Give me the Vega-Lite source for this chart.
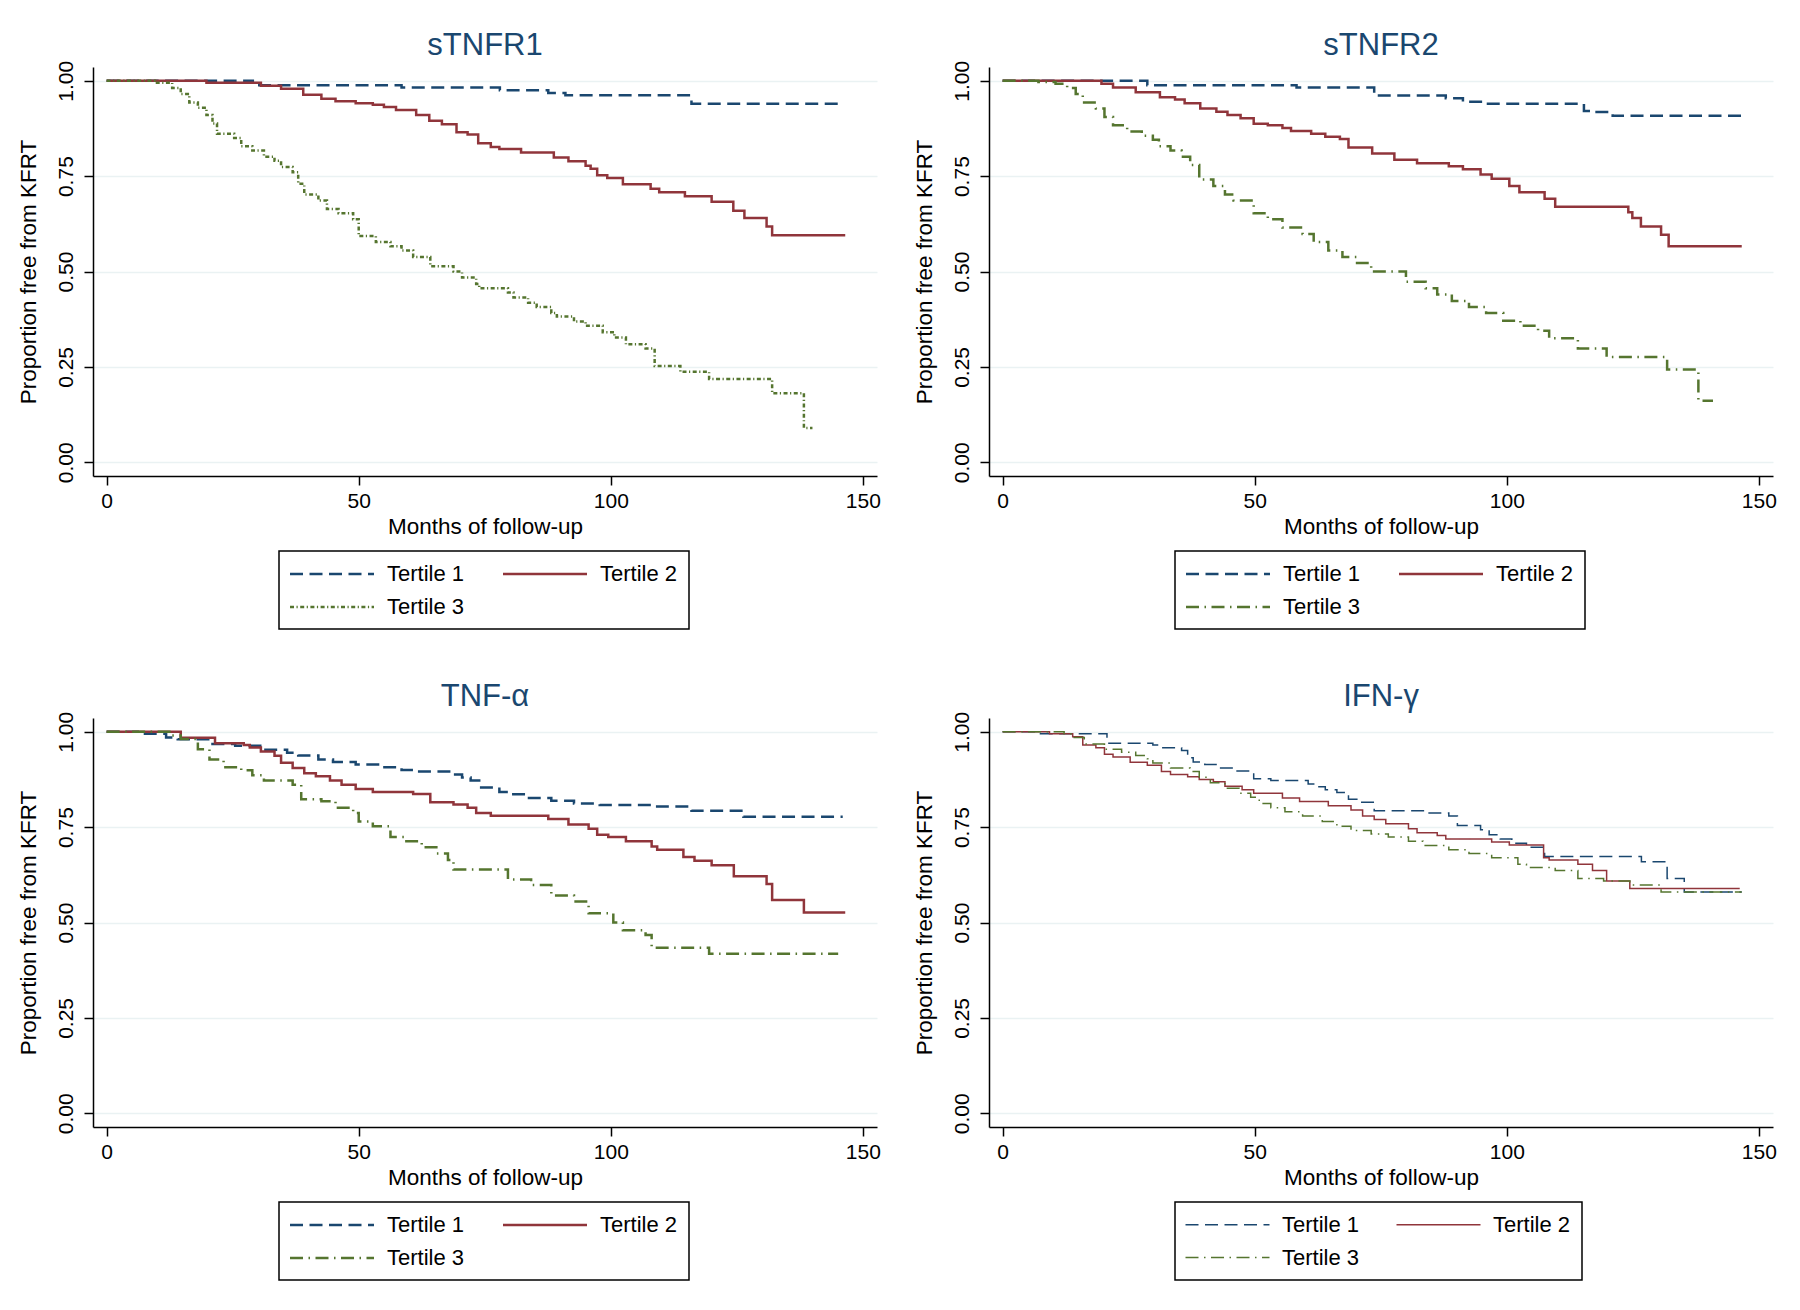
{
  "$schema": "https://vega.github.io/schema/vega-lite/v6.json",
  "background": "white",
  "padding": {"left": 17, "top": 29, "right": 5, "bottom": 5},
  "bounds": "flush",
  "columns": 2,
  "spacing": {"row": 242, "column": 112},
  "datasets": {
    "d1": [
      {"g":"Tertile 1","t":0,"s":1},{"g":"Tertile 1","t":29,"s":0.988},{"g":"Tertile 1","t":58.5,"s":0.982},{"g":"Tertile 1","t":78,"s":0.975},{"g":"Tertile 1","t":87.6,"s":0.968},{"g":"Tertile 1","t":91,"s":0.962},{"g":"Tertile 1","t":116,"s":0.94},{"g":"Tertile 1","t":145.7,"s":0.94},
      {"g":"Tertile 2","t":0,"s":1},{"g":"Tertile 2","t":19.8,"s":0.995},{"g":"Tertile 2","t":30.6,"s":0.987},{"g":"Tertile 2","t":34.6,"s":0.979},{"g":"Tertile 2","t":39,"s":0.963},{"g":"Tertile 2","t":42.6,"s":0.953},{"g":"Tertile 2","t":45.4,"s":0.946},{"g":"Tertile 2","t":49.4,"s":0.941},{"g":"Tertile 2","t":52.8,"s":0.937},{"g":"Tertile 2","t":55,"s":0.931},{"g":"Tertile 2","t":57.4,"s":0.923},{"g":"Tertile 2","t":61.4,"s":0.91},{"g":"Tertile 2","t":64,"s":0.895},{"g":"Tertile 2","t":66.5,"s":0.886},{"g":"Tertile 2","t":69.4,"s":0.865},{"g":"Tertile 2","t":71.6,"s":0.859},{"g":"Tertile 2","t":73.7,"s":0.836},{"g":"Tertile 2","t":76.2,"s":0.826},{"g":"Tertile 2","t":77.9,"s":0.821},{"g":"Tertile 2","t":82.2,"s":0.812},{"g":"Tertile 2","t":88.7,"s":0.799},{"g":"Tertile 2","t":91.6,"s":0.789},{"g":"Tertile 2","t":95,"s":0.777},{"g":"Tertile 2","t":96,"s":0.769},{"g":"Tertile 2","t":97.3,"s":0.752},{"g":"Tertile 2","t":99.3,"s":0.745},{"g":"Tertile 2","t":102.4,"s":0.729},{"g":"Tertile 2","t":107.9,"s":0.717},{"g":"Tertile 2","t":109.6,"s":0.708},{"g":"Tertile 2","t":114.7,"s":0.697},{"g":"Tertile 2","t":120,"s":0.683},{"g":"Tertile 2","t":124.3,"s":0.659},{"g":"Tertile 2","t":126.5,"s":0.64},{"g":"Tertile 2","t":130.9,"s":0.618},{"g":"Tertile 2","t":132,"s":0.595},{"g":"Tertile 2","t":146.5,"s":0.595},
      {"g":"Tertile 3","t":0,"s":1},{"g":"Tertile 3","t":9.6,"s":0.995},{"g":"Tertile 3","t":13,"s":0.981},{"g":"Tertile 3","t":14.7,"s":0.965},{"g":"Tertile 3","t":16.4,"s":0.943},{"g":"Tertile 3","t":18.1,"s":0.929},{"g":"Tertile 3","t":19.8,"s":0.91},{"g":"Tertile 3","t":21,"s":0.888},{"g":"Tertile 3","t":21.9,"s":0.861},{"g":"Tertile 3","t":25.3,"s":0.85},{"g":"Tertile 3","t":26.7,"s":0.828},{"g":"Tertile 3","t":28.9,"s":0.817},{"g":"Tertile 3","t":31.2,"s":0.801},{"g":"Tertile 3","t":33.3,"s":0.79},{"g":"Tertile 3","t":34.6,"s":0.774},{"g":"Tertile 3","t":36.9,"s":0.76},{"g":"Tertile 3","t":38,"s":0.73},{"g":"Tertile 3","t":39.2,"s":0.702},{"g":"Tertile 3","t":42,"s":0.686},{"g":"Tertile 3","t":43.7,"s":0.664},{"g":"Tertile 3","t":46,"s":0.653},{"g":"Tertile 3","t":48.9,"s":0.637},{"g":"Tertile 3","t":50,"s":0.593},{"g":"Tertile 3","t":53.4,"s":0.577},{"g":"Tertile 3","t":56.3,"s":0.566},{"g":"Tertile 3","t":58.5,"s":0.555},{"g":"Tertile 3","t":60.8,"s":0.538},{"g":"Tertile 3","t":64.2,"s":0.514},{"g":"Tertile 3","t":68.8,"s":0.5},{"g":"Tertile 3","t":70.5,"s":0.484},{"g":"Tertile 3","t":73.3,"s":0.467},{"g":"Tertile 3","t":73.9,"s":0.456},{"g":"Tertile 3","t":79.6,"s":0.445},{"g":"Tertile 3","t":80.7,"s":0.432},{"g":"Tertile 3","t":83.6,"s":0.418},{"g":"Tertile 3","t":85.3,"s":0.407},{"g":"Tertile 3","t":88.2,"s":0.391},{"g":"Tertile 3","t":89.3,"s":0.382},{"g":"Tertile 3","t":92.7,"s":0.369},{"g":"Tertile 3","t":95,"s":0.358},{"g":"Tertile 3","t":98.4,"s":0.341},{"g":"Tertile 3","t":100.7,"s":0.327},{"g":"Tertile 3","t":103,"s":0.309},{"g":"Tertile 3","t":106.9,"s":0.298},{"g":"Tertile 3","t":108.7,"s":0.252},{"g":"Tertile 3","t":113.8,"s":0.237},{"g":"Tertile 3","t":119.5,"s":0.218},{"g":"Tertile 3","t":132,"s":0.181},{"g":"Tertile 3","t":138.3,"s":0.09},{"g":"Tertile 3","t":140,"s":0.09}
    ],
    "d2": [
      {"g":"Tertile 1","t":0,"s":1},{"g":"Tertile 1","t":28.7,"s":0.988},{"g":"Tertile 1","t":58.3,"s":0.982},{"g":"Tertile 1","t":73.7,"s":0.961},{"g":"Tertile 1","t":87.9,"s":0.954},{"g":"Tertile 1","t":91.3,"s":0.945},{"g":"Tertile 1","t":95.9,"s":0.94},{"g":"Tertile 1","t":115.3,"s":0.921},{"g":"Tertile 1","t":117.5,"s":0.918},{"g":"Tertile 1","t":121,"s":0.908},{"g":"Tertile 1","t":146.6,"s":0.908},
      {"g":"Tertile 2","t":0,"s":1},{"g":"Tertile 2","t":19.6,"s":0.992},{"g":"Tertile 2","t":21.9,"s":0.982},{"g":"Tertile 2","t":26.4,"s":0.97},{"g":"Tertile 2","t":31.2,"s":0.957},{"g":"Tertile 2","t":34.2,"s":0.951},{"g":"Tertile 2","t":36.1,"s":0.941},{"g":"Tertile 2","t":39.2,"s":0.927},{"g":"Tertile 2","t":42.4,"s":0.919},{"g":"Tertile 2","t":44.6,"s":0.91},{"g":"Tertile 2","t":47.2,"s":0.902},{"g":"Tertile 2","t":49.8,"s":0.887},{"g":"Tertile 2","t":52.6,"s":0.883},{"g":"Tertile 2","t":55.5,"s":0.876},{"g":"Tertile 2","t":57.2,"s":0.868},{"g":"Tertile 2","t":61.2,"s":0.861},{"g":"Tertile 2","t":64,"s":0.853},{"g":"Tertile 2","t":66.9,"s":0.847},{"g":"Tertile 2","t":68.6,"s":0.825},{"g":"Tertile 2","t":73.3,"s":0.809},{"g":"Tertile 2","t":77.7,"s":0.793},{"g":"Tertile 2","t":82.2,"s":0.784},{"g":"Tertile 2","t":88.5,"s":0.776},{"g":"Tertile 2","t":91.3,"s":0.768},{"g":"Tertile 2","t":94.8,"s":0.754},{"g":"Tertile 2","t":97,"s":0.743},{"g":"Tertile 2","t":100.5,"s":0.724},{"g":"Tertile 2","t":102.5,"s":0.708},{"g":"Tertile 2","t":107.5,"s":0.691},{"g":"Tertile 2","t":109.6,"s":0.67},{"g":"Tertile 2","t":124.1,"s":0.655},{"g":"Tertile 2","t":124.9,"s":0.64},{"g":"Tertile 2","t":126.6,"s":0.618},{"g":"Tertile 2","t":130.6,"s":0.596},{"g":"Tertile 2","t":132.1,"s":0.566},{"g":"Tertile 2","t":146.6,"s":0.566},
      {"g":"Tertile 3","t":0,"s":1},{"g":"Tertile 3","t":7.1,"s":0.997},{"g":"Tertile 3","t":10.5,"s":0.992},{"g":"Tertile 3","t":12.8,"s":0.981},{"g":"Tertile 3","t":14.5,"s":0.965},{"g":"Tertile 3","t":15.9,"s":0.943},{"g":"Tertile 3","t":18.5,"s":0.927},{"g":"Tertile 3","t":20.2,"s":0.905},{"g":"Tertile 3","t":21.9,"s":0.883},{"g":"Tertile 3","t":24.7,"s":0.867},{"g":"Tertile 3","t":27.6,"s":0.856},{"g":"Tertile 3","t":29.8,"s":0.845},{"g":"Tertile 3","t":31,"s":0.828},{"g":"Tertile 3","t":33.3,"s":0.817},{"g":"Tertile 3","t":35.5,"s":0.801},{"g":"Tertile 3","t":37.2,"s":0.779},{"g":"Tertile 3","t":39,"s":0.741},{"g":"Tertile 3","t":41.8,"s":0.724},{"g":"Tertile 3","t":44.1,"s":0.702},{"g":"Tertile 3","t":45.8,"s":0.686},{"g":"Tertile 3","t":49.8,"s":0.653},{"g":"Tertile 3","t":52.6,"s":0.637},{"g":"Tertile 3","t":55.5,"s":0.615},{"g":"Tertile 3","t":59.5,"s":0.598},{"g":"Tertile 3","t":61.7,"s":0.577},{"g":"Tertile 3","t":64.6,"s":0.555},{"g":"Tertile 3","t":67.4,"s":0.538},{"g":"Tertile 3","t":70.3,"s":0.522},{"g":"Tertile 3","t":73.1,"s":0.5},{"g":"Tertile 3","t":80,"s":0.473},{"g":"Tertile 3","t":83.9,"s":0.456},{"g":"Tertile 3","t":86.2,"s":0.44},{"g":"Tertile 3","t":89.1,"s":0.423},{"g":"Tertile 3","t":92.5,"s":0.407},{"g":"Tertile 3","t":95.9,"s":0.391},{"g":"Tertile 3","t":99.3,"s":0.371},{"g":"Tertile 3","t":102.7,"s":0.358},{"g":"Tertile 3","t":106.2,"s":0.345},{"g":"Tertile 3","t":108.4,"s":0.325},{"g":"Tertile 3","t":114.1,"s":0.298},{"g":"Tertile 3","t":119.8,"s":0.276},{"g":"Tertile 3","t":131.8,"s":0.243},{"g":"Tertile 3","t":138,"s":0.161},{"g":"Tertile 3","t":140.9,"s":0.161}
    ],
    "d3": [
      {"g":"Tertile 1","t":0,"s":1},{"g":"Tertile 1","t":7.3,"s":0.995},{"g":"Tertile 1","t":11.8,"s":0.985},{"g":"Tertile 1","t":14.1,"s":0.98},{"g":"Tertile 1","t":21,"s":0.968},{"g":"Tertile 1","t":25.5,"s":0.963},{"g":"Tertile 1","t":31.2,"s":0.953},{"g":"Tertile 1","t":35.8,"s":0.945},{"g":"Tertile 1","t":38,"s":0.938},{"g":"Tertile 1","t":42,"s":0.927},{"g":"Tertile 1","t":44.9,"s":0.921},{"g":"Tertile 1","t":49.4,"s":0.914},{"g":"Tertile 1","t":55.1,"s":0.907},{"g":"Tertile 1","t":58.5,"s":0.9},{"g":"Tertile 1","t":60.8,"s":0.896},{"g":"Tertile 1","t":68.8,"s":0.888},{"g":"Tertile 1","t":70.5,"s":0.88},{"g":"Tertile 1","t":72.2,"s":0.872},{"g":"Tertile 1","t":73.9,"s":0.854},{"g":"Tertile 1","t":77.9,"s":0.842},{"g":"Tertile 1","t":80.2,"s":0.836},{"g":"Tertile 1","t":83,"s":0.826},{"g":"Tertile 1","t":88.2,"s":0.819},{"g":"Tertile 1","t":92.7,"s":0.812},{"g":"Tertile 1","t":97.8,"s":0.808},{"g":"Tertile 1","t":109.2,"s":0.804},{"g":"Tertile 1","t":116,"s":0.793},{"g":"Tertile 1","t":126.3,"s":0.777},{"g":"Tertile 1","t":146,"s":0.777},
      {"g":"Tertile 2","t":0,"s":1},{"g":"Tertile 2","t":14.7,"s":0.984},{"g":"Tertile 2","t":21.5,"s":0.97},{"g":"Tertile 2","t":27.2,"s":0.965},{"g":"Tertile 2","t":28.4,"s":0.959},{"g":"Tertile 2","t":30.6,"s":0.948},{"g":"Tertile 2","t":33.3,"s":0.937},{"g":"Tertile 2","t":34.6,"s":0.919},{"g":"Tertile 2","t":36.9,"s":0.905},{"g":"Tertile 2","t":39.2,"s":0.891},{"g":"Tertile 2","t":41.5,"s":0.883},{"g":"Tertile 2","t":44.3,"s":0.872},{"g":"Tertile 2","t":46.6,"s":0.861},{"g":"Tertile 2","t":49.4,"s":0.85},{"g":"Tertile 2","t":52.8,"s":0.842},{"g":"Tertile 2","t":60.8,"s":0.837},{"g":"Tertile 2","t":64.2,"s":0.815},{"g":"Tertile 2","t":68.8,"s":0.809},{"g":"Tertile 2","t":71.6,"s":0.801},{"g":"Tertile 2","t":73.3,"s":0.787},{"g":"Tertile 2","t":76.2,"s":0.78},{"g":"Tertile 2","t":87.6,"s":0.771},{"g":"Tertile 2","t":91.6,"s":0.757},{"g":"Tertile 2","t":95.6,"s":0.746},{"g":"Tertile 2","t":97.3,"s":0.73},{"g":"Tertile 2","t":99.5,"s":0.724},{"g":"Tertile 2","t":103,"s":0.713},{"g":"Tertile 2","t":108.1,"s":0.699},{"g":"Tertile 2","t":109.2,"s":0.691},{"g":"Tertile 2","t":114.4,"s":0.672},{"g":"Tertile 2","t":116.6,"s":0.662},{"g":"Tertile 2","t":120,"s":0.65},{"g":"Tertile 2","t":124.4,"s":0.621},{"g":"Tertile 2","t":130.9,"s":0.601},{"g":"Tertile 2","t":132,"s":0.559},{"g":"Tertile 2","t":138.3,"s":0.526},{"g":"Tertile 2","t":146.5,"s":0.526},
      {"g":"Tertile 3","t":0,"s":1},{"g":"Tertile 3","t":13,"s":0.99},{"g":"Tertile 3","t":14.7,"s":0.981},{"g":"Tertile 3","t":18.1,"s":0.954},{"g":"Tertile 3","t":20.4,"s":0.927},{"g":"Tertile 3","t":23.2,"s":0.907},{"g":"Tertile 3","t":26.7,"s":0.899},{"g":"Tertile 3","t":28.9,"s":0.886},{"g":"Tertile 3","t":31.2,"s":0.872},{"g":"Tertile 3","t":36.9,"s":0.861},{"g":"Tertile 3","t":38.6,"s":0.823},{"g":"Tertile 3","t":42.6,"s":0.818},{"g":"Tertile 3","t":45.4,"s":0.801},{"g":"Tertile 3","t":48.9,"s":0.787},{"g":"Tertile 3","t":50,"s":0.765},{"g":"Tertile 3","t":52.8,"s":0.752},{"g":"Tertile 3","t":56.3,"s":0.724},{"g":"Tertile 3","t":59.1,"s":0.713},{"g":"Tertile 3","t":62.5,"s":0.697},{"g":"Tertile 3","t":65.4,"s":0.681},{"g":"Tertile 3","t":67.7,"s":0.664},{"g":"Tertile 3","t":68.8,"s":0.639},{"g":"Tertile 3","t":79.6,"s":0.613},{"g":"Tertile 3","t":84.2,"s":0.598},{"g":"Tertile 3","t":88.2,"s":0.571},{"g":"Tertile 3","t":92.7,"s":0.555},{"g":"Tertile 3","t":95.6,"s":0.524},{"g":"Tertile 3","t":100.5,"s":0.5},{"g":"Tertile 3","t":102.4,"s":0.48},{"g":"Tertile 3","t":106.9,"s":0.467},{"g":"Tertile 3","t":108.1,"s":0.434},{"g":"Tertile 3","t":119.5,"s":0.418},{"g":"Tertile 3","t":145.1,"s":0.418}
    ],
    "d4": [
      {"g":"Tertile 1","t":0,"s":1},{"g":"Tertile 1","t":7.1,"s":0.995},{"g":"Tertile 1","t":20.7,"s":0.97},{"g":"Tertile 1","t":29.8,"s":0.965},{"g":"Tertile 1","t":31.5,"s":0.958},{"g":"Tertile 1","t":35.5,"s":0.951},{"g":"Tertile 1","t":36.7,"s":0.932},{"g":"Tertile 1","t":37.8,"s":0.921},{"g":"Tertile 1","t":40.1,"s":0.914},{"g":"Tertile 1","t":42.9,"s":0.905},{"g":"Tertile 1","t":45.8,"s":0.897},{"g":"Tertile 1","t":49.8,"s":0.877},{"g":"Tertile 1","t":53.2,"s":0.872},{"g":"Tertile 1","t":60.6,"s":0.863},{"g":"Tertile 1","t":61.7,"s":0.856},{"g":"Tertile 1","t":64,"s":0.848},{"g":"Tertile 1","t":66.3,"s":0.841},{"g":"Tertile 1","t":68.6,"s":0.823},{"g":"Tertile 1","t":70.8,"s":0.815},{"g":"Tertile 1","t":73.7,"s":0.793},{"g":"Tertile 1","t":83.9,"s":0.787},{"g":"Tertile 1","t":88.5,"s":0.779},{"g":"Tertile 1","t":90.2,"s":0.754},{"g":"Tertile 1","t":94.8,"s":0.743},{"g":"Tertile 1","t":96.5,"s":0.73},{"g":"Tertile 1","t":98.7,"s":0.719},{"g":"Tertile 1","t":101,"s":0.708},{"g":"Tertile 1","t":103.9,"s":0.697},{"g":"Tertile 1","t":107.5,"s":0.673},{"g":"Tertile 1","t":126.7,"s":0.659},{"g":"Tertile 1","t":131.8,"s":0.615},{"g":"Tertile 1","t":135.2,"s":0.58},{"g":"Tertile 1","t":146.6,"s":0.58},
      {"g":"Tertile 2","t":0,"s":1},{"g":"Tertile 2","t":9.3,"s":0.995},{"g":"Tertile 2","t":13.9,"s":0.987},{"g":"Tertile 2","t":15.9,"s":0.965},{"g":"Tertile 2","t":18.5,"s":0.958},{"g":"Tertile 2","t":20.2,"s":0.941},{"g":"Tertile 2","t":21.9,"s":0.934},{"g":"Tertile 2","t":25.3,"s":0.92},{"g":"Tertile 2","t":28.7,"s":0.912},{"g":"Tertile 2","t":31.5,"s":0.896},{"g":"Tertile 2","t":33.3,"s":0.888},{"g":"Tertile 2","t":36.7,"s":0.882},{"g":"Tertile 2","t":39,"s":0.875},{"g":"Tertile 2","t":41.8,"s":0.869},{"g":"Tertile 2","t":44.1,"s":0.857},{"g":"Tertile 2","t":47.5,"s":0.848},{"g":"Tertile 2","t":49.8,"s":0.839},{"g":"Tertile 2","t":55.5,"s":0.826},{"g":"Tertile 2","t":58.9,"s":0.817},{"g":"Tertile 2","t":64.6,"s":0.806},{"g":"Tertile 2","t":69.1,"s":0.795},{"g":"Tertile 2","t":71.4,"s":0.779},{"g":"Tertile 2","t":73.7,"s":0.77},{"g":"Tertile 2","t":76,"s":0.759},{"g":"Tertile 2","t":80.5,"s":0.746},{"g":"Tertile 2","t":82.2,"s":0.735},{"g":"Tertile 2","t":86.2,"s":0.728},{"g":"Tertile 2","t":87.9,"s":0.719},{"g":"Tertile 2","t":97,"s":0.711},{"g":"Tertile 2","t":100.5,"s":0.703},{"g":"Tertile 2","t":107.3,"s":0.67},{"g":"Tertile 2","t":108.4,"s":0.664},{"g":"Tertile 2","t":114.1,"s":0.653},{"g":"Tertile 2","t":117,"s":0.636},{"g":"Tertile 2","t":119.8,"s":0.609},{"g":"Tertile 2","t":124.4,"s":0.589},{"g":"Tertile 2","t":146.2,"s":0.589},
      {"g":"Tertile 3","t":0,"s":1},{"g":"Tertile 3","t":12.2,"s":0.995},{"g":"Tertile 3","t":13.9,"s":0.985},{"g":"Tertile 3","t":16.2,"s":0.968},{"g":"Tertile 3","t":20.2,"s":0.954},{"g":"Tertile 3","t":23.6,"s":0.946},{"g":"Tertile 3","t":26.4,"s":0.938},{"g":"Tertile 3","t":28.7,"s":0.929},{"g":"Tertile 3","t":29.8,"s":0.918},{"g":"Tertile 3","t":33.3,"s":0.905},{"g":"Tertile 3","t":37.2,"s":0.896},{"g":"Tertile 3","t":39,"s":0.881},{"g":"Tertile 3","t":41.2,"s":0.866},{"g":"Tertile 3","t":44.1,"s":0.852},{"g":"Tertile 3","t":46.9,"s":0.839},{"g":"Tertile 3","t":49.2,"s":0.828},{"g":"Tertile 3","t":50.9,"s":0.812},{"g":"Tertile 3","t":53.2,"s":0.801},{"g":"Tertile 3","t":56,"s":0.79},{"g":"Tertile 3","t":59.5,"s":0.779},{"g":"Tertile 3","t":63.4,"s":0.765},{"g":"Tertile 3","t":66.3,"s":0.752},{"g":"Tertile 3","t":69.1,"s":0.741},{"g":"Tertile 3","t":73.1,"s":0.732},{"g":"Tertile 3","t":76.5,"s":0.724},{"g":"Tertile 3","t":80.5,"s":0.713},{"g":"Tertile 3","t":83.4,"s":0.702},{"g":"Tertile 3","t":88.5,"s":0.691},{"g":"Tertile 3","t":92.5,"s":0.681},{"g":"Tertile 3","t":97,"s":0.67},{"g":"Tertile 3","t":102.2,"s":0.653},{"g":"Tertile 3","t":103.9,"s":0.644},{"g":"Tertile 3","t":109.6,"s":0.636},{"g":"Tertile 3","t":114.1,"s":0.615},{"g":"Tertile 3","t":119.2,"s":0.609},{"g":"Tertile 3","t":124.4,"s":0.598},{"g":"Tertile 3","t":130.6,"s":0.58},{"g":"Tertile 3","t":146.6,"s":0.58}
    ]
  },
  "concat": [
    {
      "width": 784, "height": 409,
      "title": "sTNFR1",
      "data": {"name": "d1"},
      "mark": {"type": "line", "interpolate": "step-after", "strokeWidth": 2.5},
      "encoding": {
        "x": {"field": "t", "type": "quantitative", "scale": {"domain": [-2.7, 152.8], "nice": false, "zero": false}, "axis": {"values": [0, 50, 100, 150], "title": "Months of follow-up", "grid": false}},
        "y": {"field": "s", "type": "quantitative", "scale": {"domain": [-0.036, 1.036], "nice": false}, "axis": {"values": [0, 0.25, 0.5, 0.75, 1], "format": ".2f", "title": "Proportion free from KFRT"}},
        "color": {"field": "g", "type": "nominal", "scale": {"domain": ["Tertile 1", "Tertile 2", "Tertile 3"], "range": ["#1A476F", "#90353B", "#55752F"]}, "legend": {"title": null, "orient": "none", "legendX": 186, "legendY": 484, "symbolStrokeWidth": 2.5}},
        "strokeDash": {"field": "g", "type": "nominal", "scale": {"domain": ["Tertile 1", "Tertile 2", "Tertile 3"], "range": [[13, 6.5], [1, 0], [4, 2.5, 1.2, 2.5]]}, "legend": {"title": null, "orient": "none", "legendX": 186, "legendY": 484, "symbolStrokeWidth": 2.5}}
      }
    },
    {
      "width": 784, "height": 409,
      "title": "sTNFR2",
      "data": {"name": "d2"},
      "mark": {"type": "line", "interpolate": "step-after", "strokeWidth": 2.5},
      "encoding": {
        "x": {"field": "t", "type": "quantitative", "scale": {"domain": [-2.7, 152.8], "nice": false, "zero": false}, "axis": {"values": [0, 50, 100, 150], "title": "Months of follow-up", "grid": false}},
        "y": {"field": "s", "type": "quantitative", "scale": {"domain": [-0.036, 1.036], "nice": false}, "axis": {"values": [0, 0.25, 0.5, 0.75, 1], "format": ".2f", "title": "Proportion free from KFRT"}},
        "color": {"field": "g", "type": "nominal", "scale": {"domain": ["Tertile 1", "Tertile 2", "Tertile 3"], "range": ["#1A476F", "#90353B", "#55752F"]}, "legend": {"title": null, "orient": "none", "legendX": 186, "legendY": 484, "symbolStrokeWidth": 2.5}},
        "strokeDash": {"field": "g", "type": "nominal", "scale": {"domain": ["Tertile 1", "Tertile 2", "Tertile 3"], "range": [[13, 6.5], [1, 0], [13, 5.5, 1.5, 5.5]]}, "legend": {"title": null, "orient": "none", "legendX": 186, "legendY": 484, "symbolStrokeWidth": 2.5}}
      }
    },
    {
      "width": 784, "height": 409,
      "title": "TNF-α",
      "data": {"name": "d3"},
      "mark": {"type": "line", "interpolate": "step-after", "strokeWidth": 2.5},
      "encoding": {
        "x": {"field": "t", "type": "quantitative", "scale": {"domain": [-2.7, 152.8], "nice": false, "zero": false}, "axis": {"values": [0, 50, 100, 150], "title": "Months of follow-up", "grid": false}},
        "y": {"field": "s", "type": "quantitative", "scale": {"domain": [-0.036, 1.036], "nice": false}, "axis": {"values": [0, 0.25, 0.5, 0.75, 1], "format": ".2f", "title": "Proportion free from KFRT"}},
        "color": {"field": "g", "type": "nominal", "scale": {"domain": ["Tertile 1", "Tertile 2", "Tertile 3"], "range": ["#1A476F", "#90353B", "#55752F"]}, "legend": {"title": null, "orient": "none", "legendX": 186, "legendY": 484, "symbolStrokeWidth": 2.5}},
        "strokeDash": {"field": "g", "type": "nominal", "scale": {"domain": ["Tertile 1", "Tertile 2", "Tertile 3"], "range": [[13, 6.5], [1, 0], [13, 5.5, 1.5, 5.5]]}, "legend": {"title": null, "orient": "none", "legendX": 186, "legendY": 484, "symbolStrokeWidth": 2.5}}
      }
    },
    {
      "width": 784, "height": 409,
      "title": "IFN-γ",
      "data": {"name": "d4"},
      "mark": {"type": "line", "interpolate": "step-after", "strokeWidth": 1.5},
      "encoding": {
        "x": {"field": "t", "type": "quantitative", "scale": {"domain": [-2.7, 152.8], "nice": false, "zero": false}, "axis": {"values": [0, 50, 100, 150], "title": "Months of follow-up", "grid": false}},
        "y": {"field": "s", "type": "quantitative", "scale": {"domain": [-0.036, 1.036], "nice": false}, "axis": {"values": [0, 0.25, 0.5, 0.75, 1], "format": ".2f", "title": "Proportion free from KFRT"}},
        "color": {"field": "g", "type": "nominal", "scale": {"domain": ["Tertile 1", "Tertile 2", "Tertile 3"], "range": ["#1A476F", "#90353B", "#55752F"]}, "legend": {"title": null, "orient": "none", "legendX": 186, "legendY": 484, "symbolStrokeWidth": 1.5}},
        "strokeDash": {"field": "g", "type": "nominal", "scale": {"domain": ["Tertile 1", "Tertile 2", "Tertile 3"], "range": [[13, 6.5], [1, 0], [13, 5.5, 1.5, 5.5]]}, "legend": {"title": null, "orient": "none", "legendX": 186, "legendY": 484, "symbolStrokeWidth": 1.5}}
      }
    }
  ],
  "resolve": {
    "scale": {"color": "independent", "strokeDash": "independent"},
    "legend": {"color": "independent", "strokeDash": "independent"}
  },
  "config": {
    "font": "Liberation Sans",
    "view": {"stroke": null},
    "title": {"font": "Liberation Sans", "fontSize": 31, "fontWeight": "normal", "color": "#1A476F", "anchor": "middle", "offset": -1.5},
    "axis": {
      "domainColor": "black", "domainWidth": 1.5, "tickColor": "black", "tickWidth": 1.5, "tickSize": 9,
      "labelFont": "Liberation Sans", "labelFontSize": 21, "labelColor": "black", "labelPadding": 5,
      "titleFont": "Liberation Sans", "titleFontSize": 22.5, "titleFontWeight": "normal", "titleColor": "black", "titlePadding": 4,
      "gridColor": "#EAF2F3", "gridWidth": 1.5
    },
    "axisY": {"labelAngle": -90, "labelPadding": 8, "titlePadding": 15},
    "legend": {
      "symbolType": "M-4,0H4",
      "symbolSize": 441,
      "symbolOffset": 30,
      "labelOffset": 43,
      "labelFont": "Liberation Sans",
      "labelFontSize": 22,
      "labelColor": "black",
      "columns": 2,
      "direction": "horizontal",
      "columnPadding": 33,
      "rowPadding": 10,
      "padding": 11,
      "strokeColor": "black",
      "strokeWidth": 1.5,
      "fillColor": "white",
      "symbolFillColor": "transparent"
    }
  }
}
